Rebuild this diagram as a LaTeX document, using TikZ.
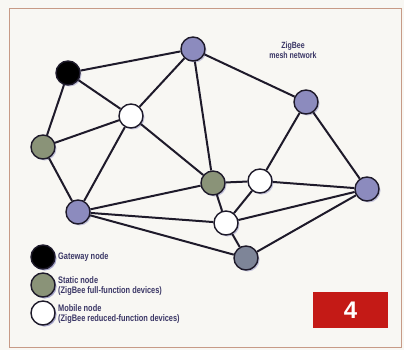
\documentclass[tikz,border=0pt]{standalone}
\usepackage{fontspec}
\setsansfont{Liberation Sans}
\newfontfamily\narrowfont[FakeStretch=0.78]{Liberation Sans}
\usetikzlibrary{shadows}
\definecolor{Paper}{HTML}{F8F7F3}
\definecolor{Frame}{HTML}{C79A86}
\definecolor{Lilac}{HTML}{8C8BBE}
\definecolor{Sage}{HTML}{8A9378}
\definecolor{Slate}{HTML}{7E8598}
\definecolor{Ink}{HTML}{1E1A2A}
\definecolor{LabelInk}{HTML}{3B3766}
\definecolor{BoxRed}{HTML}{C41A16}

\begin{document}
\begin{tikzpicture}[
  x=1pt,y=-1pt,
  every node/.style={font=\narrowfont\bfseries\fontsize{9.5}{10.5}\selectfont,text=LabelInk},
  dev/.style={circle,draw=Ink,line width=1.4pt,minimum size=24pt,inner sep=0pt,
    drop shadow={shadow xshift=1.5pt,shadow yshift=-1.5pt,fill=Lilac,opacity=0.5}},
  gateway/.style={dev,fill=black},
  static/.style={dev,fill=Sage},
  router/.style={dev,fill=Lilac},
  coord/.style={dev,fill=Slate},
  mobile/.style={dev,fill=white},
  legend/.style={dev,minimum size=26pt},
  link/.style={line width=2pt,color=Ink},
  caption/.style={anchor=west,align=left,inner sep=0pt}
]
\useasboundingbox (0,0) rectangle (404,350);
\fill[Paper] (0,0) rectangle (404,350);
\draw[Frame,line width=0.8pt] (9,8) rectangle (401,347);

% network nodes
\node[gateway] (gw) at (68,73) {};
\node[router] (hubN) at (193,49) {};
\node[router] (hubNE) at (306,102) {};
\node[mobile] (mobA) at (131,116) {};
\node[static] (statW) at (43,147) {};
\node[static] (statC) at (213,183) {};
\node[mobile] (mobB) at (260,181) {};
\node[router] (hubE) at (367,189) {};
\node[router] (hubSW) at (78,212) {};
\node[mobile] (mobC) at (226,223) {};
\node[coord] (hubS) at (246,258) {};

% links
\draw[link] (gw) -- (hubN);
\draw[link] (gw) -- (statW);
\draw[link] (gw) -- (mobA);
\draw[link] (hubN) -- (mobA);
\draw[link] (hubN) -- (statC);
\draw[link] (hubN) -- (hubNE);
\draw[link] (mobA) -- (statW);
\draw[link] (mobA) -- (hubSW);
\draw[link] (mobA) -- (statC);
\draw[link] (statW) -- (hubSW);
\draw[link] (hubNE) -- (mobB);
\draw[link] (hubNE) -- (hubE);
\draw[link] (statC) -- (mobB);
\draw[link] (statC) -- (hubSW);
\draw[link] (statC) -- (mobC);
\draw[link] (mobB) -- (hubE);
\draw[link] (mobB) -- (mobC);
\draw[link] (hubSW) -- (mobC);
\draw[link] (hubSW) -- (hubS);
\draw[link] (mobC) -- (hubE);
\draw[link] (mobC) -- (hubS);
\draw[link] (hubS) -- (hubE);

\node[align=center,font=\narrowfont\bfseries\fontsize{9}{10}\selectfont] (title) at (293,50) {ZigBee\\mesh network};

% legend
\node[legend,gateway] (keyGw) at (43,257) {};
\node[legend,static] (keyStat) at (43,285) {};
\node[legend,mobile] (keyMob) at (43,313) {};
\node[caption] (txtGw) at (58,257) {Gateway node};
\node[caption] (txtStat) at (58,286) {Static node\\(ZigBee full-function devices)};
\node[caption] (txtMob) at (58,314) {Mobile node\\(ZigBee reduced-function devices)};

% figure number
\node[fill=BoxRed,minimum width=75pt,minimum height=36pt,inner sep=0pt,
  text=white,font=\sffamily\bfseries\fontsize{24}{24}\selectfont] (fig) at (350.5,310) {4};
\end{tikzpicture}
\end{document}
